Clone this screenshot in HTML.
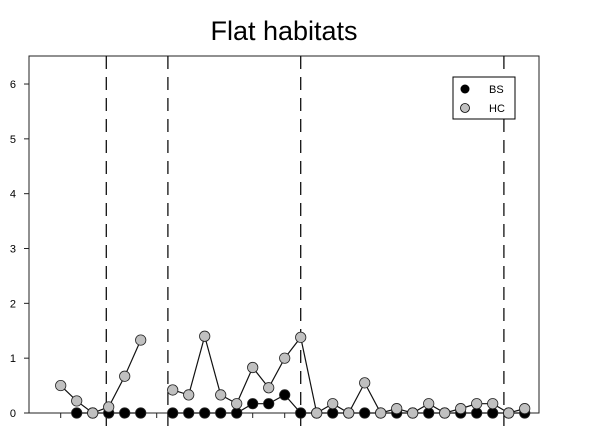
<!DOCTYPE html>
<html><head><meta charset="utf-8"><style>
body{margin:0;background:#fff;}
svg{display:block;font-family:"Liberation Sans",Arial,sans-serif;}
</style></head><body>
<svg id="chart" width="596" height="441" viewBox="0 0 596 441">
<text x="284" y="40" font-size="27" text-anchor="middle">Flat habitats</text>
<g id="axes"></g>
<g id="marks"></g>
<g>
<rect x="453" y="77" width="62" height="42" fill="#fff" stroke="#000" stroke-width="1"/>
<circle cx="465" cy="89" r="4.5" fill="#000"/>
<text x="489" y="93" font-size="11">BS</text>
<circle cx="465" cy="108" r="4.5" fill="#c0c0c0" stroke="#000" stroke-width="0.8"/>
<text x="489" y="112" font-size="11">HC</text>
</g>
</svg>
<script>
const positions = [1,2,3,4,5,6,7,8,9,10,11,12,13,14,15,16,17,18,19,20,21,22,23,24,25,26,27,28,29,30];
const hcValues = [0.5,0.22,0,0.11,0.67,1.33,null,0.42,0.33,1.4,0.33,0.17,0.83,0.46,1.0,1.38,0,0.17,0,0.55,0,0.08,0,0.17,0,0.08,0.17,0.17,0,0.08];
const bsValues = [null,0,0,0,0,0,null,0,0,0,0,0,0.17,0.17,0.33,0,0,0,0,0,0,0,0,0,0,0,0,0,0,0];
const yTicks = [0,1,2,3,4,5,6];
const dividers = [3.85,7.7,16,28.7];
const xTickPos = [1,7,13,15];

const NS="http://www.w3.org/2000/svg";
const L=29,R=539,T=56,B=413;
const xs=k=>44.7+16*k;
const ys=v=>B-v*54.83;
function mk(tag,attrs,parent){const e=document.createElementNS(NS,tag);for(const a in attrs)e.setAttribute(a,attrs[a]);parent.appendChild(e);return e;}
const axes=document.getElementById('axes'), marks=document.getElementById('marks');

const frame=mk('rect',{x:L,y:T,width:R-L,height:B-T,fill:'none',stroke:'#222','stroke-width':1},axes);


yTicks.forEach(v=>{
  const t=mk('line',{x1:L-5,x2:L,y1:ys(v),y2:ys(v),stroke:'#222'},axes);
  
  
  const tx=mk('text',{x:L-13,y:ys(v)+4,'font-size':11,'text-anchor':'end'},axes);
  tx.textContent=v;
  
  
});
xTickPos.forEach(k=>{
  const t=mk('line',{x1:xs(k),x2:xs(k),y1:B,y2:B+5,stroke:'#222'},axes);
  
  
});
dividers.forEach(k=>{
  const d=mk('line',{x1:xs(k),x2:xs(k),y1:T,y2:B+15,stroke:'#111','stroke-width':1.3,'stroke-dasharray':'13,8'},axes);
  
  
});

function series(vals,fill,name){
  let seg=[];const segs=[];
  vals.forEach((v,i)=>{if(v===null){if(seg.length)segs.push(seg);seg=[];}else seg.push([xs(positions[i]),ys(v)]);});
  if(seg.length)segs.push(seg);
  segs.forEach(s=>{
    const p=mk('polyline',{points:s.map(q=>q.join(',')).join(' '),fill:'none',stroke:'#111','stroke-width':1.2},marks);
    
    
  });
  vals.forEach((v,i)=>{if(v===null)return;
    const c=mk('circle',{cx:xs(positions[i]),cy:ys(v),r:5.2,fill:fill,stroke:'#222','stroke-width':0.8},marks);
    
    
  });
}
series(bsValues,'#000','bs');
series(hcValues,'#c0c0c0','hc');
</script>
</body></html>
